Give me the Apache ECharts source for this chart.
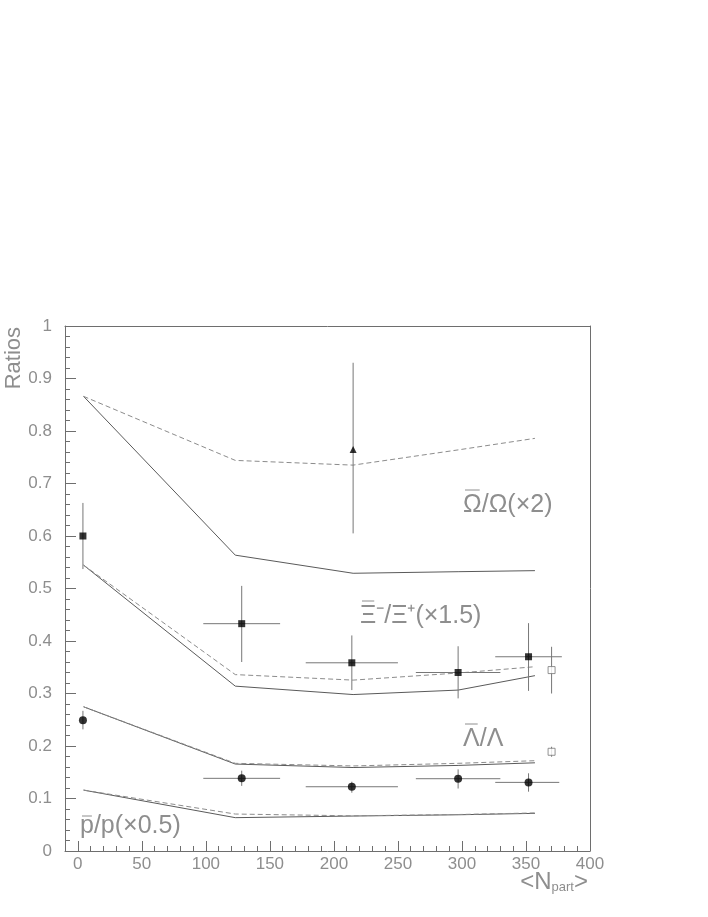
<!DOCTYPE html>
<html>
<head>
<meta charset="utf-8">
<script src="https://cdn.jsdelivr.net/npm/echarts@6/dist/echarts.min.js"></script>
<style>
  html, body { margin: 0; padding: 0; background: #ffffff; }
  #ratios { width: 708px; height: 917px; }
</style>
</head>
<body>
<div id="ratios"></div>
<script>
// model curves, sampled at the same Npart values
var curveNpart = [4.5, 123, 215, 297, 357];
var omegaSolid = [0.866, 0.5635, 0.529, 0.532, 0.534];
var omegaDashed = [0.866, 0.744, 0.735, 0.764, 0.786];
var xiSolid = [0.5445, 0.314, 0.298, 0.3065, 0.334];
var xiDashed = [0.5445, 0.336, 0.3255, 0.339, 0.351];
var lambdaSolid = [0.2747, 0.1656, 0.159, 0.163, 0.168];
var lambdaDashed = [0.2747, 0.167, 0.162, 0.167, 0.172];
var pbarSolid = [0.116, 0.0635, 0.0666, 0.069, 0.0717];
var pbarDashed = [0.116, 0.0704, 0.067, 0.0695, 0.0725];

// measured points
var ptNpart = [4, 128, 214, 297, 352];
var ptNpartLo = [4, 98, 178, 264, 326];
var xiNpartHi = [4, 158, 250, 330, 378];
var lambdaNpartHi = [4, 158, 250, 330, 376];
var xiVal = [0.600, 0.433, 0.3585, 0.340, 0.370];
var xiLo = [0.537, 0.360, 0.3065, 0.2907, 0.305];
var xiHi = [0.663, 0.505, 0.4106, 0.390, 0.434];
var lambdaVal = [0.249, 0.1384, 0.1224, 0.1377, 0.1307];
var lambdaLo = [0.2317, 0.124, 0.111, 0.119, 0.113];
var lambdaHi = [0.267, 0.153, 0.132, 0.1555, 0.148];
var omegaNpart = [215];
var omegaVal = [0.765];
var omegaLo = [0.605];
var omegaHi = [0.93];
// open squares
var openNpart = [370, 370];
var openVal = [0.3446, 0.189];
var openLo = [0.300, 0.1795];
var openHi = [0.389, 0.1986];

var xMajorTicks = [0, 50, 100, 150, 200, 250, 300, 350, 400];

var FONT = "Liberation Sans";
var AXIS_GREY = "#6e6e6e";
var TEXT_GREY = "#8e8e8e";
var LABEL_SIZE = 25;

function zip(xs, ys) {
  return xs.map(function (x, i) { return [x, ys[i]]; });
}
function errRows(xs, ys, xlo, xhi, ylo, yhi) {
  return xs.map(function (x, i) {
    return [x, ys[i], xlo ? xlo[i] : x, xhi ? xhi[i] : x, ylo[i], yhi[i]];
  });
}

function curve(data, dashed) {
  return {
    type: "line",
    data: zip(curveNpart, data),
    symbol: "none",
    silent: true,
    z: 2,
    lineStyle: {
      color: dashed ? "#8c8c8c" : "#5a5a5a",
      width: 1,
      type: dashed ? [5, 3] : "solid"
    }
  };
}

function errorBars(rows) {
  return {
    type: "custom",
    data: rows,
    z: 3,
    silent: true,
    encode: { x: 0, y: 1 },
    renderItem: function (params, api) {
      var c = api.coord([api.value(0), api.value(1)]);
      var xl = api.coord([api.value(2), api.value(1)]);
      var xh = api.coord([api.value(3), api.value(1)]);
      var yl = api.coord([api.value(0), api.value(4)]);
      var yh = api.coord([api.value(0), api.value(5)]);
      var st = { stroke: "#777777", lineWidth: 1 };
      var kids = [
        { type: "line", shape: { x1: c[0], y1: yl[1], x2: c[0], y2: yh[1] }, style: st }
      ];
      if (xh[0] - xl[0] > 1) {
        kids.push({ type: "line", shape: { x1: xl[0], y1: c[1], x2: xh[0], y2: c[1] }, style: st });
      }
      return { type: "group", children: kids };
    }
  };
}

function markers(xs, ys, symbol, size, open) {
  return {
    type: "scatter",
    data: zip(xs, ys),
    symbol: symbol,
    symbolSize: size,
    z: 4,
    silent: true,
    itemStyle: open
      ? { color: "#ffffff", borderColor: "#777777", borderWidth: 1 }
      : { color: "#000000" }
  };
}

// label with an overline on its first glyph (ROOT style #bar{})
var measureCtx = document.createElement("canvas").getContext("2d");
function barLabel(x, y, barred, rest, barLift) {
  var font = LABEL_SIZE + "px " + FONT;
  measureCtx.font = font;
  var w = measureCtx.measureText(barred).width;
  return {
    type: "group",
    children: [
      { type: "text", x: x, y: y, style: { text: barred, font: font, fill: TEXT_GREY, verticalAlign: "middle" } },
      {
        type: "line",
        shape: { x1: x + 2, y1: y - barLift, x2: x + w - 2, y2: y - barLift },
        style: { stroke: TEXT_GREY, lineWidth: 1 }
      },
      { type: "text", x: x + w, y: y, style: { text: rest, font: font, fill: TEXT_GREY, verticalAlign: "middle" } }
    ]
  };
}

var myChart = echarts.init(document.getElementById("ratios"));

var option = {
  animation: false,
  backgroundColor: "#ffffff",
  grid: { left: 65, top: 326, right: 118, bottom: 66 },
  xAxis: [
    {
      type: "value",
      min: -10,
      max: 400,
      position: "bottom",
      axisLine: { show: true, onZero: false, lineStyle: { color: AXIS_GREY } },
      axisTick: {
        show: true, inside: true, length: 10, customValues: xMajorTicks,
        lineStyle: { color: AXIS_GREY }
      },
      axisLabel: {
        customValues: xMajorTicks, color: TEXT_GREY, fontSize: 17,
        fontFamily: FONT, margin: 5
      },
      splitLine: { show: false }
    },
    {
      // minor ticks every 10
      type: "value",
      min: -10,
      max: 400,
      interval: 10,
      position: "bottom",
      axisLine: { show: false },
      axisTick: { show: true, inside: true, length: 5, lineStyle: { color: AXIS_GREY } },
      axisLabel: { show: false },
      splitLine: { show: false }
    },
    {
      // top frame
      type: "value",
      min: -10,
      max: 400,
      position: "top",
      axisLine: { show: true, onZero: false, lineStyle: { color: AXIS_GREY } },
      axisTick: { show: false },
      axisLabel: { show: false },
      splitLine: { show: false }
    }
  ],
  yAxis: [
    {
      type: "value",
      min: 0,
      max: 1,
      interval: 0.1,
      position: "left",
      axisLine: { show: true, onZero: false, lineStyle: { color: AXIS_GREY } },
      axisTick: { show: true, inside: true, length: 11, lineStyle: { color: AXIS_GREY } },
      minorTick: { show: true, splitNumber: 5, length: 5, lineStyle: { color: AXIS_GREY } },
      axisLabel: {
        color: TEXT_GREY, fontSize: 17, fontFamily: FONT, margin: 13,
        formatter: function (v) { return String(+v.toFixed(1)); }
      },
      splitLine: { show: false }
    },
    {
      // right frame
      type: "value",
      min: 0,
      max: 1,
      position: "right",
      axisLine: { show: true, onZero: false, lineStyle: { color: AXIS_GREY } },
      axisTick: { show: false },
      axisLabel: { show: false },
      splitLine: { show: false }
    }
  ],
  series: [
    curve(omegaSolid, false),
    curve(omegaDashed, true),
    curve(xiSolid, false),
    curve(xiDashed, true),
    curve(lambdaSolid, false),
    curve(lambdaDashed, true),
    curve(pbarSolid, false),
    curve(pbarDashed, true),
    errorBars(errRows(ptNpart, xiVal, ptNpartLo, xiNpartHi, xiLo, xiHi)),
    errorBars(errRows(ptNpart, lambdaVal, ptNpartLo, lambdaNpartHi, lambdaLo, lambdaHi)),
    errorBars(errRows(omegaNpart, omegaVal, null, null, omegaLo, omegaHi)),
    errorBars(errRows(openNpart, openVal, null, null, openLo, openHi)),
    markers(ptNpart, xiVal, "rect", 7, false),
    markers(ptNpart, lambdaVal, "circle", 8, false),
    markers(omegaNpart, omegaVal, "triangle", 7, false),
    markers(openNpart, openVal, "rect", 7, true)
  ],
  graphic: [
    {
      type: "text", x: 14, y: 327, rotation: Math.PI / 2,
      style: { text: "Ratios", font: "22px " + FONT, fill: TEXT_GREY, align: "right", verticalAlign: "middle" }
    },
    {
      type: "text", x: 588, y: 882,
      style: {
        text: "<N{s|part}>", font: "24px " + FONT, fill: TEXT_GREY, align: "right", verticalAlign: "middle",
        rich: { s: { fontSize: 13, fontFamily: FONT, fill: TEXT_GREY, verticalAlign: "bottom", lineHeight: 24 } }
      }
    },
    barLabel(463, 505, "\u03A9", "/\u03A9(\u00D72)", 15),
    barLabel(360, 616, "\u039E", "\u207B/\u039E\u207A(\u00D71.5)", 15),
    barLabel(463, 739, "\u039B", "/\u039B", 15),
    barLabel(80, 826, "p", "/p(\u00D70.5)", 10)
  ]
};

myChart.setOption(option);
</script>
</body>
</html>
